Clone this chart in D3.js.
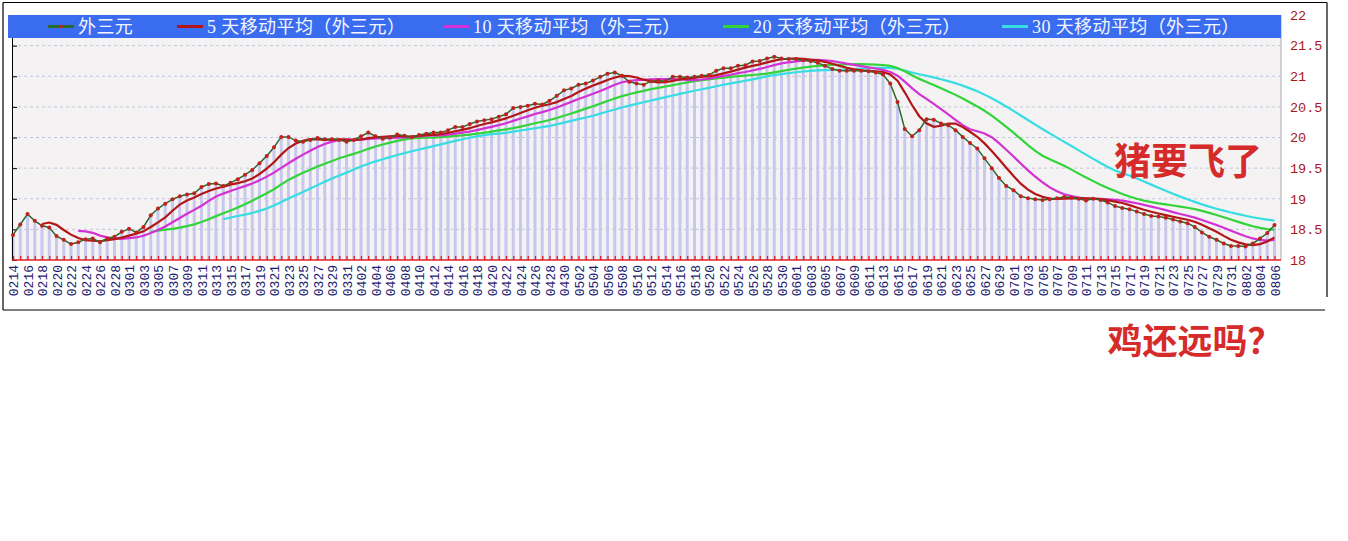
<!DOCTYPE html>
<html>
<head>
<meta charset="utf-8">
<script src="https://cdn.jsdelivr.net/npm/d3@7"></script>
<style>
  body { margin: 0; background: #fff; }
  svg { display: block; }
</style>
</head>
<body>
<svg id="chart" width="1348" height="541"></svg>
<script>
// daily categories, 2008-02-14 .. 2008-08-06
const dates = [
  "0214","0215","0216","0217","0218","0219","0220","0221","0222","0223","0224","0225","0226","0227","0228","0229",
  "0301","0302","0303","0304","0305","0306","0307","0308","0309","0310","0311","0312","0313","0314","0315","0316",
  "0317","0318","0319","0320","0321","0322","0323","0324","0325","0326","0327","0328","0329","0330","0331",
  "0401","0402","0403","0404","0405","0406","0407","0408","0409","0410","0411","0412","0413","0414","0415",
  "0416","0417","0418","0419","0420","0421","0422","0423","0424","0425","0426","0427","0428","0429","0430",
  "0501","0502","0503","0504","0505","0506","0507","0508","0509","0510","0511","0512","0513","0514","0515","0516",
  "0517","0518","0519","0520","0521","0522","0523","0524","0525","0526","0527","0528","0529","0530","0531",
  "0601","0602","0603","0604","0605","0606","0607","0608","0609","0610","0611","0612","0613","0614","0615",
  "0616","0617","0618","0619","0620","0621","0622","0623","0624","0625","0626","0627","0628","0629","0630",
  "0701","0702","0703","0704","0705","0706","0707","0708","0709","0710","0711","0712","0713","0714","0715","0716",
  "0717","0718","0719","0720","0721","0722","0723","0724","0725","0726","0727","0728","0729","0730","0731",
  "0801","0802","0803","0804","0805","0806"
];

// 外三元 price, one value per day
const price = [
  18.41, 18.58, 18.75, 18.64, 18.56, 18.53, 18.39, 18.33, 18.26, 18.29, 18.34, 18.35, 18.29, 18.35, 18.38, 18.46,
  18.51, 18.45, 18.54, 18.73, 18.84, 18.92, 18.99, 19.04, 19.07, 19.09, 19.19, 19.24, 19.25, 19.21, 19.26, 19.32,
  19.39, 19.47, 19.58, 19.70, 19.84, 20.01, 20.01, 19.95, 19.93, 19.96, 19.99, 19.97, 19.97, 19.96, 19.93,
  19.96, 20.02, 20.08, 20.02, 19.98, 20.00, 20.05, 20.03, 20.01, 20.04, 20.06, 20.08, 20.08, 20.12, 20.17,
  20.17, 20.22, 20.26, 20.28, 20.30, 20.34, 20.38, 20.48, 20.50, 20.52, 20.55, 20.54, 20.60, 20.68, 20.77,
  20.80, 20.86, 20.88, 20.93, 20.99, 21.04, 21.06, 21.01, 20.91, 20.88, 20.86, 20.92, 20.93, 20.92, 20.99, 20.99,
  20.98, 20.99, 21.01, 21.02, 21.09, 21.13, 21.13, 21.17, 21.18, 21.24, 21.25, 21.29, 21.32, 21.29, 21.28,
  21.28, 21.26, 21.25, 21.22, 21.17, 21.12, 21.09, 21.09, 21.09, 21.09, 21.08, 21.06, 21.03, 20.88, 20.58,
  20.14, 20.02, 20.12, 20.30, 20.29, 20.23, 20.20, 20.12, 20.01, 19.91, 19.82, 19.66, 19.50, 19.34, 19.21,
  19.14, 19.04, 19.01, 18.99, 18.98, 18.99, 19.01, 19.03, 19.02, 19.00, 18.97, 19.00, 18.98, 18.94, 18.88, 18.85,
  18.83, 18.79, 18.75, 18.72, 18.71, 18.69, 18.66, 18.63, 18.60, 18.54, 18.45, 18.38, 18.33, 18.27, 18.23,
  18.23, 18.22, 18.27, 18.35, 18.44, 18.57
];

const maDays = [5, 10, 20, 30];
const yTicks = [18, 18.5, 19, 19.5, 20, 20.5, 21, 21.5, 22];
const legendLabels = [
  "外三元",
  "5 天移动平均（外三元）",
  "10 天移动平均（外三元）",
  "20 天移动平均（外三元）",
  "30 天移动平均（外三元）"
];

const colours = ["#2b6a2b", "#b31616", "#d331d3", "#33d43a", "#36dde3"];
const legendX = [48, 177, 443, 723, 1002];

const svg = d3.select("#chart");

const plot = { left: 12, right: 1281, top: 15, bottom: 260 };

const x = d3.scalePoint().domain(dates).range([13, 1274.5]);
const y = d3.scaleLinear().domain([18, 22]).range([plot.bottom, plot.top]);

// n-day moving average of the price series
const movingAverage = (values, n) =>
  values.map((_, i) => (i < n - 1 ? null : d3.mean(values.slice(i - n + 1, i + 1))));

const maSeries = maDays.map((n) => movingAverage(price, n));

// outer frame
const frame = svg.append("g").attr("stroke", "#000").attr("stroke-width", 1.2);
frame.append("line").attr("x1", 3).attr("x2", 1327).attr("y1", 2.5).attr("y2", 2.5);
frame.append("line").attr("x1", 3).attr("x2", 3).attr("y1", 2.5).attr("y2", 310);
frame.append("line").attr("x1", 1327).attr("x2", 1327).attr("y1", 2.5).attr("y2", 297);
frame.append("line").attr("x1", 3).attr("x2", 1325).attr("y1", 310).attr("y2", 310);

// plot background
svg
  .append("rect")
  .attr("x", plot.left)
  .attr("y", plot.top)
  .attr("width", plot.right - plot.left)
  .attr("height", plot.bottom - plot.top)
  .attr("fill", "#f4f2f2");

svg
  .append("line")
  .attr("x1", plot.right)
  .attr("x2", plot.right)
  .attr("y1", plot.top)
  .attr("y2", plot.bottom)
  .attr("stroke", "#a8a8b0");

// price columns
svg
  .append("g")
  .selectAll("rect")
  .data(price)
  .join("rect")
  .attr("x", (d, i) => x(dates[i]) - 1.5)
  .attr("y", (d) => y(d))
  .attr("width", 3)
  .attr("height", (d) => y(18) - y(d))
  .attr("fill", "#c8c8ee");

// dashed grid
svg
  .append("g")
  .selectAll("line")
  .data(yTicks.filter((t) => t > 18 && t < 22))
  .join("line")
  .attr("x1", plot.left)
  .attr("x2", plot.right)
  .attr("y1", (d) => y(d))
  .attr("y2", (d) => y(d))
  .attr("stroke", "#c4c4dc")
  .attr("stroke-dasharray", "3,3");

// left axis with inward ticks
const leftAxis = svg
  .append("g")
  .attr("transform", `translate(${plot.left},0)`)
  .call(d3.axisRight(y).tickValues(yTicks).tickSize(5).tickSizeOuter(0).tickFormat(""));
leftAxis.selectAll("path, line").attr("stroke", "#000");

// right value labels
const rightAxis = svg
  .append("g")
  .attr("transform", `translate(${plot.right},0)`)
  .call(d3.axisRight(y).tickValues(yTicks).tickSize(0).tickPadding(9).tickFormat(d3.format("")));
rightAxis.select(".domain").remove();
rightAxis
  .selectAll("text")
  .attr("fill", "#a81818")
  .style("font-family", "'Liberation Mono', monospace")
  .style("font-size", "13.5px");

// red base line with small ticks for every day
const baseAxis = svg
  .append("g")
  .attr("transform", `translate(0,${plot.bottom})`)
  .call(d3.axisTop(x).tickSize(4).tickSizeOuter(0).tickFormat(""));
baseAxis.selectAll("path, line").attr("stroke", "#e02020").attr("stroke-width", 1.3);
baseAxis.select(".domain").attr("d", `M${plot.left},0H${plot.right}`);

// rotated date labels
const dateAxis = svg
  .append("g")
  .attr("transform", `translate(0,${plot.bottom})`)
  .call(
    d3
      .axisBottom(x)
      .tickValues(dates.filter((d, i) => i % 2 === 0))
      .tickSize(0)
  );
dateAxis.select(".domain").remove();
dateAxis
  .selectAll("text")
  .attr("transform", "rotate(-90)")
  .attr("x", -5)
  .attr("y", 0)
  .attr("dy", "0.35em")
  .attr("text-anchor", "end")
  .attr("fill", "#1c1c72")
  .style("font-family", "'Liberation Mono', monospace")
  .style("font-size", "13px");

// moving average lines, longest first
const line = d3
  .line()
  .defined((d) => d != null)
  .x((d, i) => x(dates[i]))
  .y((d) => y(d));

maSeries
  .map((values, k) => ({ values, colour: colours[k + 1] }))
  .reverse()
  .forEach((s) => {
    svg
      .append("path")
      .attr("d", line(s.values))
      .attr("fill", "none")
      .attr("stroke", s.colour)
      .attr("stroke-width", 2.2);
  });

// price line with markers
svg
  .append("path")
  .attr("d", line(price))
  .attr("fill", "none")
  .attr("stroke", colours[0])
  .attr("stroke-width", 1.5);

svg
  .append("g")
  .selectAll("circle")
  .data(price)
  .join("circle")
  .attr("cx", (d, i) => x(dates[i]))
  .attr("cy", (d) => y(d))
  .attr("r", 2)
  .attr("fill", "#c41e1e");

// legend band
svg
  .append("rect")
  .attr("x", 8)
  .attr("y", 15)
  .attr("width", plot.right - 8)
  .attr("height", 23)
  .attr("fill", "#3a6cf0");

const legend = svg
  .append("g")
  .selectAll("g")
  .data(legendLabels)
  .join("g")
  .attr("transform", (d, i) => `translate(${legendX[i]},26.5)`);

legend
  .append("line")
  .attr("x1", 0)
  .attr("x2", 26)
  .attr("stroke", (d, i) => colours[i])
  .attr("stroke-width", 3);

legend
  .filter((d, i) => i === 0)
  .append("circle")
  .attr("cx", 13)
  .attr("r", 1.8)
  .attr("fill", "#c41e1e");

legend
  .append("text")
  .attr("x", 30)
  .attr("dy", "0.36em")
  .attr("fill", "#f4f6ff")
  .style("font-family", "'Liberation Serif', 'Noto Sans CJK SC', serif")
  .style("font-size", "18px")
  .style("letter-spacing", "0.4px")
  .text((d) => d);

// annotations
const note = (text, cx, cy, size) =>
  svg
    .append("text")
    .attr("x", cx)
    .attr("y", cy)
    .attr("text-anchor", "middle")
    .attr("dominant-baseline", "central")
    .attr("fill", "#d62b2b")
    .style("font-family", "'Noto Sans CJK SC', sans-serif")
    .style("font-weight", 700)
    .style("font-size", `${size}px`)
    .text(text);

note("猪要飞了", 1188, 159, 37);
note("鸡还远吗？", 1195, 338, 35);
</script>
</body>
</html>
